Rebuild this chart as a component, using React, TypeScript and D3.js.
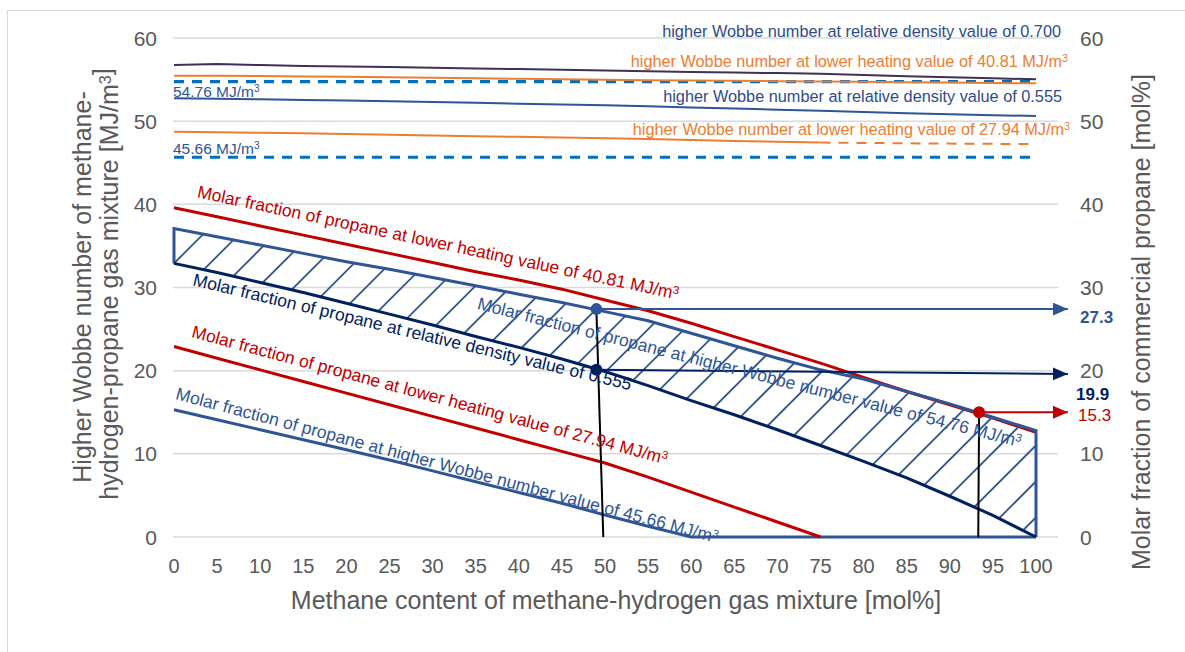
import React from 'react';
import * as d3 from 'd3';

// ---------- data ----------
const methane = [0, 5, 10, 15, 20, 25, 30, 35, 40, 45, 50, 55, 60, 65, 70, 75, 80, 85, 90, 95, 100];
const methaneTo75 = [0, 5, 10, 15, 20, 25, 30, 35, 40, 45, 50, 55, 60, 65, 70, 75];
const methaneFrom75 = [75, 80, 85, 90, 95, 100];

// higher Wobbe number [MJ/m3] (left axis)
const wobbeRd700 = [56.75, 56.87, 56.75, 56.63, 56.57, 56.5, 56.43, 56.33, 56.27, 56.18, 56.08, 56.0, 55.92, 55.85, 55.78, 55.7, 55.55, 55.4, 55.28, 55.15, 55.03];
const wobbeLhv4081 = [55.47, 55.45, 55.42, 55.37, 55.33, 55.28, 55.22, 55.15, 55.09, 55.03, 54.97, 54.93, 54.89, 54.85, 54.81, 54.78, 54.74, 54.69, 54.64, 54.6, 54.55];
const wobbeRd555 = [52.75, 52.7, 52.63, 52.56, 52.48, 52.4, 52.3, 52.2, 52.1, 52.0, 51.9, 51.78, 51.65, 51.52, 51.38, 51.24, 51.1, 50.96, 50.83, 50.72, 50.62];
const wobbeLhv2794 = [48.73, 48.68, 48.6, 48.54, 48.45, 48.37, 48.28, 48.2, 48.12, 48.03, 47.95, 47.85, 47.73, 47.62, 47.52, 47.42];
const wobbeLhv2794Extra = [47.42, 47.38, 47.34, 47.3, 47.27, 47.24];
const wobbeLimits = [54.76, 45.66];

// molar fraction of propane [mol%] (right axis)
const propaneLhv4081 = [39.6, 38.5, 37.4, 36.3, 35.2, 34.1, 33.0, 31.9, 30.9, 29.8, 28.5, 27.2, 25.7, 24.1, 22.5, 20.9, 19.2, 17.5, 15.9, 14.3, 12.6];
const propaneWobbe5476 = [37.1, 36.1, 35.1, 34.1, 33.1, 32.2, 31.2, 30.2, 29.2, 28.2, 27.1, 26.0, 24.5, 23.0, 21.5, 20.1, 19.0, 17.5, 16.0, 14.4, 12.8];
const propaneRd555 = [32.9, 31.8, 30.6, 29.4, 28.1, 26.8, 25.5, 24.1, 22.8, 21.4, 19.9, 18.2, 16.4, 14.7, 12.9, 11.0, 9.1, 7.1, 4.9, 2.6, 0];
const propaneLhv2794 = [22.9, 21.5, 20.1, 18.7, 17.3, 15.9, 14.5, 13.1, 11.7, 10.3, 8.9, 7.2, 5.4, 3.6, 1.8, 0];
const propaneWobbe4566 = [15.3, 14.1, 12.9, 11.7, 10.5, 9.25, 7.95, 6.65, 5.35, 4.05, 2.65, 1.3, 0, 0, 0, 0, 0, 0, 0, 0, 0];

// readout points (x, value at dot, value at arrow end, foot of vertical, label)
const readoutX = [49.0, 49.0, 93.4];
const readoutY = [27.4, 20.1, 15.0];
const readoutYEnd = [27.4, 19.6, 15.0];
const readoutFootX = [49.8, null, 93.3];
const readoutLabels = ['27.3', '19.9', '15.3'];
const arrowEndX = 103.7;

const yTicks = [0, 10, 20, 30, 40, 50, 60];
const xTicks = methane;

// ---------- styling ----------
const FONT = '"Liberation Sans", Arial, Helvetica, sans-serif';
const GREY = '#595959';
const RED = '#C00000';
const BLUE = '#2F5597';
const NAVY = '#002060';
const ORANGE = '#ED7D31';
const PURPLE = '#403152';
const DASHBLUE = '#0070C0';

export default function App() {
  const x = d3.scaleLinear().domain([0, 100]).range([174, 1036]);
  const y = d3.scaleLinear().domain([0, 60]).range([537, 38]);
  const yR = d3.scaleLinear().domain([0, 60]).range([537, 38]);

  const line = d3
    .line<[number, number]>()
    .x((d) => x(d[0]))
    .y((d) => y(d[1]));
  const lineR = d3
    .line<[number, number]>()
    .x((d) => x(d[0]))
    .y((d) => yR(d[1]));

  const zip = (xs: number[], ys: number[]) => xs.map((v, i) => [v, ys[i]] as [number, number]);

  // hatched band polygon
  const upper = zip(methane, propaneWobbe5476);
  const lower = zip(methane, propaneRd555);
  const bandPts = [...upper, ...lower.slice().reverse()];
  const bandPath = lineR(bandPts) + 'Z';

  // hatch lines
  const theta = (45 * Math.PI) / 180;
  const d = 36;
  const x0 = x(0);
  const y0 = yR(propaneRd555[0]);
  const hatch: JSX.Element[] = [];
  for (let k = -3; k < 36; k++) {
    const bx = x0 + k * d;
    const L = 400;
    hatch.push(
      <line
        key={k}
        x1={bx - L * Math.cos(theta)}
        y1={y0 + L * Math.sin(theta)}
        x2={bx + L * Math.cos(theta)}
        y2={y0 - L * Math.sin(theta)}
        stroke={BLUE}
        strokeWidth={1.8}
      />
    );
  }

  const sup = (t: string) => (
    <tspan dy="-0.45em" fontSize="65%">
      {t}
    </tspan>
  );

  const readoutColors = [BLUE, NAVY, RED];
  const readoutBold = [true, true, false];
  const readoutLabelX = [1080, 1076, 1078];
  const readoutLabelDy = [14, 26, 9];

  const curveLabels = [
    { text: 'Molar fraction of propane at lower heating value of 40.81 MJ/m', sup: true, x: 2.6, y: 40.85, a: 12, c: RED },
    { text: 'Molar fraction of propane at relative density value of 0.555', sup: false, x: 2.1, y: 30.28, a: 13.5, c: NAVY },
    { text: 'Molar fraction of propane at higher Wobbe number value of 54.76 MJ/m', sup: true, x: 35.1, y: 27.44, a: 14.3, c: BLUE },
    { text: 'Molar fraction of propane at lower heating value of 27.94 MJ/m', sup: true, x: 1.95, y: 24.04, a: 15, c: RED },
    { text: 'Molar fraction of propane at higher Wobbe number value of 45.66 MJ/m', sup: true, x: 0.1, y: 16.58, a: 14.9, c: BLUE },
  ];

  const topLabels = [
    { text: 'higher Wobbe number at relative density value of 0.700', sup: false, x: 1061, y: 37, c: '#2F4B8A' },
    { text: 'higher Wobbe number at lower heating value of 40.81 MJ/m', sup: true, x: 1068, y: 67, c: ORANGE },
    { text: 'higher Wobbe number at relative density value of 0.555', sup: false, x: 1062, y: 102, c: '#2F4B8A' },
    { text: 'higher Wobbe number at lower heating value of 27.94 MJ/m', sup: true, x: 1070, y: 135, c: ORANGE },
  ];

  return (
    <svg
      width={1185}
      height={652}
      style={{ position: 'absolute', left: 0, top: 0, background: '#fff' }}
      fontFamily={FONT}
    >
      <defs>
        <clipPath id="bandClip">
          <path d={bandPath} />
        </clipPath>
        {readoutColors.map((c, i) => (
          <marker
            key={i}
            id={`arrow${i}`}
            markerUnits="userSpaceOnUse"
            markerWidth={16}
            markerHeight={14}
            refX={15}
            refY={6.5}
            orient="auto"
          >
            <path d="M0,0 L15,6.5 L0,13 Z" fill={c} />
          </marker>
        ))}
      </defs>
      <rect x={0} y={0} width={1185} height={652} fill="#fff" />
      <rect x={7.5} y={10.5} width={1250} height={700} fill="none" stroke="#D9D9D9" strokeWidth={1} />

      {/* gridlines */}
      {yTicks.map((t) => (
        <line key={t} x1={x(0) - 1} x2={1058} y1={y(t)} y2={y(t)} stroke="#D9D9D9" strokeWidth={1.5} />
      ))}

      {/* left axis ticks */}
      {yTicks.map((t) => (
        <text key={'l' + t} x={157} y={y(t)} dy="0.36em" textAnchor="end" fontSize={21} fill={GREY}>
          {t}
        </text>
      ))}
      {/* right axis ticks */}
      {yTicks.map((t) => (
        <text key={'r' + t} x={1080} y={yR(t)} dy="0.36em" textAnchor="start" fontSize={21} fill={GREY}>
          {t}
        </text>
      ))}
      {/* x ticks */}
      {xTicks.map((t) => (
        <text key={'x' + t} x={x(t)} y={573} textAnchor="middle" fontSize={20} fill={GREY}>
          {t}
        </text>
      ))}

      {/* axis titles */}
      <text x={616} y={609} textAnchor="middle" fontSize={25} fill={GREY}>
        Methane content of methane-hydrogen gas mixture [mol%]
      </text>
      <text transform="translate(91,287) rotate(-90)" textAnchor="middle" fontSize={25} fill={GREY}>
        Higher Wobbe number of methane-
      </text>
      <text transform="translate(118,284) rotate(-90)" textAnchor="middle" fontSize={25} fill={GREY}>
        hydrogen-propane gas mixture [MJ/m{sup('3')}]
      </text>
      <text transform="translate(1150,322) rotate(-90)" textAnchor="middle" fontSize={25} fill={GREY}>
        Molar fraction of commercial propane [mol%]
      </text>

      {/* top Wobbe lines */}
      {wobbeLimits.map((v) => (
        <path
          key={v}
          d={line([
            [0, v],
            [100, v],
          ])!}
          stroke={DASHBLUE}
          strokeWidth={3.2}
          strokeDasharray="10 8"
          fill="none"
        />
      ))}
      <path d={line(zip(methane, wobbeRd700))!} stroke={PURPLE} strokeWidth={2} fill="none" />
      <path d={line(zip(methane, wobbeLhv4081))!} stroke={ORANGE} strokeWidth={2} fill="none" />
      <path d={line(zip(methane, wobbeRd555))!} stroke={BLUE} strokeWidth={2} fill="none" />
      <path d={line(zip(methaneTo75, wobbeLhv2794))!} stroke={ORANGE} strokeWidth={2} fill="none" />
      <path
        d={line(zip(methaneFrom75, wobbeLhv2794Extra))!}
        stroke={ORANGE}
        strokeWidth={2}
        strokeDasharray="10 8"
        fill="none"
      />

      {/* Wobbe limit labels */}
      <text x={173} y={96.5} fontSize={15.5} fill={BLUE}>
        54.76 MJ/m{sup('3')}
      </text>
      <text x={173} y={153.5} fontSize={15.5} fill={BLUE}>
        45.66 MJ/m{sup('3')}
      </text>
      {topLabels.map((l, i) => (
        <text key={i} x={l.x} y={l.y} textAnchor="end" fontSize={16.3} fill={l.c}>
          {l.text}
          {l.sup ? sup('3') : null}
        </text>
      ))}

      {/* propane curves */}
      <path d={lineR(zip(methane, propaneWobbe4566))!} stroke={BLUE} strokeWidth={3} fill="none" />
      <path d={lineR(zip(methaneTo75, propaneLhv2794))!} stroke={RED} strokeWidth={3} fill="none" />
      <path d={lineR(zip(methane, propaneLhv4081))!} stroke={RED} strokeWidth={3} fill="none" />

      {/* hatched band */}
      <g clipPath="url(#bandClip)">{hatch}</g>
      <path
        d={
          lineR([
            [0, propaneRd555[0]],
            ...upper,
            [100, 0],
          ])!
        }
        stroke={BLUE}
        strokeWidth={3}
        fill="none"
        strokeLinejoin="miter"
      />
      <path d={lineR(lower)!} stroke={NAVY} strokeWidth={3} fill="none" />

      {/* black verticals */}
      {readoutX.map((rx, i) =>
        readoutFootX[i] == null ? null : (
          <line
            key={'v' + i}
            x1={x(rx)}
            y1={yR(readoutY[i])}
            x2={x(readoutFootX[i] as number)}
            y2={yR(0)}
            stroke="#000"
            strokeWidth={2}
          />
        )
      )}

      {/* arrows */}
      {readoutX.map((rx, i) => (
        <line
          key={'a' + i}
          x1={x(rx)}
          y1={yR(readoutY[i])}
          x2={x(arrowEndX)}
          y2={yR(readoutYEnd[i])}
          stroke={readoutColors[i]}
          strokeWidth={2}
          markerEnd={`url(#arrow${i})`}
        />
      ))}
      {readoutX.map((rx, i) => (
        <circle key={'c' + i} cx={x(rx)} cy={yR(readoutY[i])} r={6} fill={readoutColors[i]} />
      ))}
      {readoutLabels.map((t, i) => (
        <text
          key={'t' + i}
          x={readoutLabelX[i]}
          y={yR(readoutYEnd[i]) + readoutLabelDy[i]}
          fontSize={17}
          fontWeight={readoutBold[i] ? 'bold' : 'normal'}
          fill={readoutColors[i]}
        >
          {t}
        </text>
      ))}

      {/* curve labels */}
      {curveLabels.map((l, i) => (
        <text
          key={'cl' + i}
          transform={`translate(${x(l.x)},${yR(l.y)}) rotate(${l.a})`}
          fontSize={17.5}
          fill={l.c}
        >
          {l.text}
          {l.sup ? sup('3') : null}
        </text>
      ))}
    </svg>
  );
}
